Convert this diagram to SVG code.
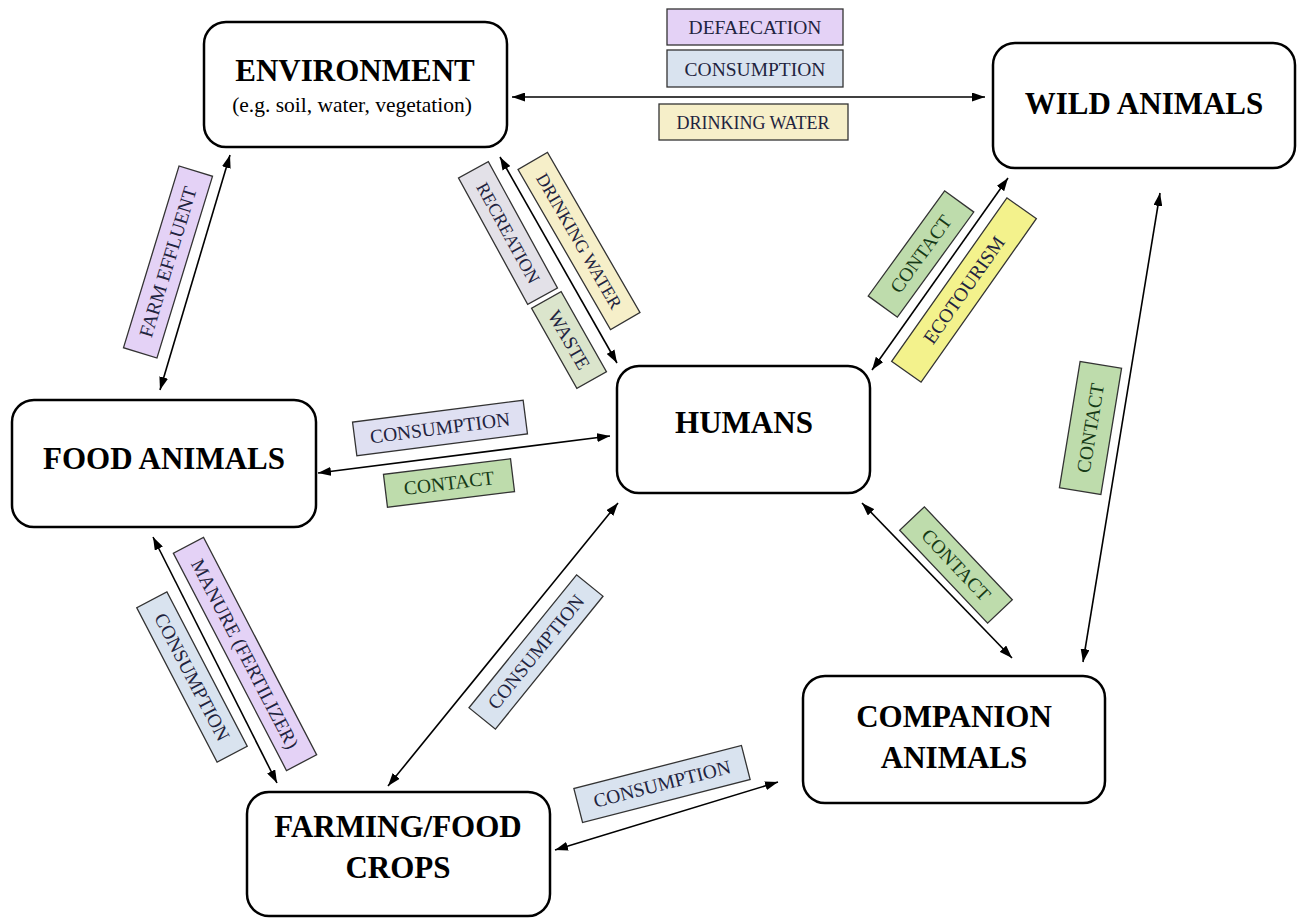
<svg xmlns="http://www.w3.org/2000/svg" width="1303" height="918" viewBox="0 0 1303 918">
<defs>
<marker id="ah" viewBox="0 0 13 9" markerWidth="13" markerHeight="9" refX="13" refY="4.5" orient="auto-start-reverse" markerUnits="userSpaceOnUse">
<path d="M0,0 L13,4.5 L0,9 z" fill="#000"/>
</marker>
<style>
.node rect{fill:#fff;stroke:#000;stroke-width:2.5}
.nt{font-family:"Liberation Serif","Times New Roman",serif;font-weight:bold;font-size:31px;fill:#000;text-anchor:middle}
.ns{font-family:"Liberation Serif","Times New Roman",serif;font-size:21.5px;fill:#000;text-anchor:middle}
.conn line{stroke:#000;stroke-width:1.6;marker-start:url(#ah);marker-end:url(#ah)}
.lb rect{stroke:#333;stroke-width:1.3}
.lb text{font-family:"Liberation Serif","Times New Roman",serif;font-size:19.5px;fill:#1f2440;text-anchor:middle}
.lb text.s{font-size:18px}
.pu{fill:#e4d2f6}.bl{fill:#d9e3ef}.ye{fill:#f6efc9}.gr{fill:#e3e1e8}.wa{fill:#dbe5cc}.gn{fill:#bedcac}.ec{fill:#f3f28c}.lv{fill:#dfe0f2}
.lb text.g{fill:#163a16}
</style>
</defs>
<rect width="1303" height="918" fill="#fff"/>
<g id="connectors" class="conn">
<line x1="512" y1="97" x2="985" y2="97"/>
<line x1="230" y1="155" x2="160" y2="390"/>
<line x1="500" y1="157" x2="617" y2="363"/>
<line x1="1008" y1="178" x2="872" y2="370"/>
<line x1="318" y1="473" x2="610" y2="436"/>
<line x1="153" y1="537" x2="277" y2="783"/>
<line x1="618" y1="503" x2="388" y2="786"/>
<line x1="862" y1="503" x2="1012" y2="658"/>
<line x1="1160" y1="193" x2="1083" y2="662"/>
<line x1="555" y1="850" x2="778" y2="782"/>
</g>
<g id="node-environment" class="node">
<rect x="204" y="22" width="303" height="125" rx="22"/>
<text class="nt" x="355" y="81">ENVIRONMENT</text>
<text class="ns" x="352" y="112">(e.g. soil, water, vegetation)</text>
</g>
<g id="node-wild" class="node">
<rect x="993" y="43" width="302" height="125" rx="22"/>
<text class="nt" x="1144" y="114">WILD ANIMALS</text>
</g>
<g id="node-food" class="node">
<rect x="12" y="400" width="304" height="127" rx="22"/>
<text class="nt" x="164" y="469">FOOD ANIMALS</text>
</g>
<g id="node-humans" class="node">
<rect x="617" y="366" width="253" height="127" rx="22"/>
<text class="nt" x="744" y="433">HUMANS</text>
</g>
<g id="node-companion" class="node">
<rect x="803" y="676" width="302" height="127" rx="22"/>
<text class="nt" x="954" y="727">COMPANION</text>
<text class="nt" x="954" y="768">ANIMALS</text>
</g>
<g id="node-farming" class="node">
<rect x="247" y="792" width="303" height="124" rx="22"/>
<text class="nt" x="398" y="837">FARMING/FOOD</text>
<text class="nt" x="398" y="878">CROPS</text>
</g>
<g id="labels">
<g class="lb"><rect class="pu" x="667" y="9" width="176" height="36"/><text x="755" y="34">DEFAECATION</text></g>
<g class="lb"><rect class="bl" x="667" y="50" width="176" height="37"/><text x="755" y="75.5">CONSUMPTION</text></g>
<g class="lb"><rect class="ye" x="659" y="104" width="189" height="36"/><text class="s" x="753" y="128.5">DRINKING WATER</text></g>
<g class="lb" transform="translate(168,262) rotate(-73)"><rect class="pu" x="-95" y="-17.5" width="190" height="35"/><text x="0" y="6.5">FARM EFFLUENT</text></g>
<g class="lb" transform="translate(508,233) rotate(61.3)"><rect class="gr" x="-72" y="-17" width="144" height="34"/><text class="s" x="0" y="6">RECREATION</text></g>
<g class="lb" transform="translate(569,340) rotate(60.5)"><rect class="wa" x="-46" y="-17" width="92" height="34"/><text x="0" y="6.5">WASTE</text></g>
<g class="lb" transform="translate(579,241) rotate(60)"><rect class="ye" x="-92.5" y="-17" width="185" height="34"/><text class="s" x="0" y="6">DRINKING WATER</text></g>
<g class="lb" transform="translate(921,254) rotate(-54)"><rect class="gn" x="-65" y="-18" width="130" height="36"/><text class="g" x="0" y="6.5">CONTACT</text></g>
<g class="lb" transform="translate(964,290) rotate(-54.8)"><rect class="ec" x="-100" y="-18" width="200" height="36"/><text x="0" y="6.5">ECOTOURISM</text></g>
<g class="lb" transform="translate(440,428) rotate(-7.3)"><rect class="lv" x="-86" y="-17" width="172" height="34"/><text x="0" y="6.5">CONSUMPTION</text></g>
<g class="lb" transform="translate(449,483) rotate(-7)"><rect class="gn" x="-64" y="-16.5" width="128" height="33"/><text class="g" x="0" y="6.5">CONTACT</text></g>
<g class="lb" transform="translate(192,677) rotate(62.5)"><rect class="bl" x="-87" y="-17" width="174" height="34"/><text x="0" y="6.5">CONSUMPTION</text></g>
<g class="lb" transform="translate(245,654) rotate(62.5)"><rect class="pu" x="-122.5" y="-17" width="245" height="34"/><text x="0" y="6.5">MANURE (FERTILIZER)</text></g>
<g class="lb" transform="translate(536,652) rotate(-51)"><rect class="bl" x="-85.5" y="-17" width="171" height="34"/><text x="0" y="6.5">CONSUMPTION</text></g>
<g class="lb" transform="translate(956,565) rotate(46.6)"><rect class="gn" x="-64" y="-17" width="128" height="34"/><text class="g" x="0" y="6.5">CONTACT</text></g>
<g class="lb" transform="translate(1090.5,428) rotate(-80.7)"><rect class="gn" x="-64" y="-21" width="128" height="42"/><text class="g" x="0" y="6.5">CONTACT</text></g>
<g class="lb" transform="translate(662,784) rotate(-14.4)"><rect class="bl" x="-86.5" y="-17.5" width="173" height="35"/><text x="0" y="6.5">CONSUMPTION</text></g>
</g>
</svg>
